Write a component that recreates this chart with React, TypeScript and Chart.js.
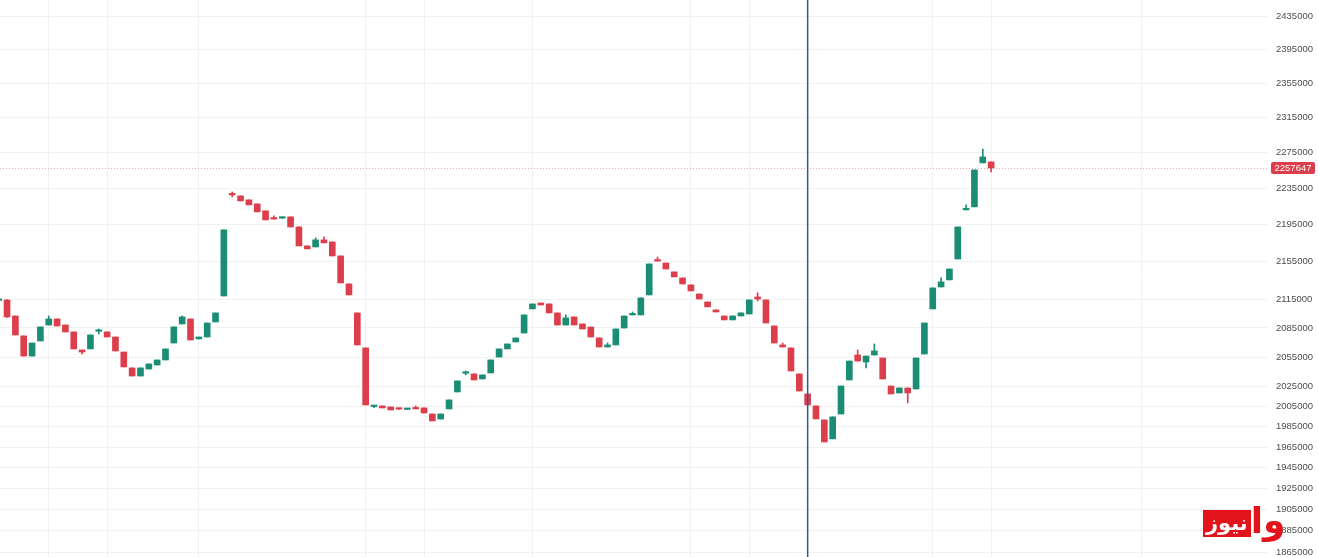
import React, { useEffect, useRef } from "react";
import { Chart, registerables } from "chart.js";

Chart.register(...registerables);

// ---- data ----
const OPEN = [
  2113700, 2114200, 2097400, 2076700, 2056000, 2071500, 2088000, 2094300, 2088000, 2080800,
  2062200, 2063300, 2081500, 2080800, 2075600, 2060100, 2043900, 2035700, 2042800, 2046900,
  2052000, 2069400, 2089100, 2094300, 2073600, 2075600, 2091200, 2118400, 2228700, 2226500,
  2222100, 2217700, 2210000, 2201400, 2202000, 2203400, 2192400, 2171800, 2170700, 2178300,
  2176100, 2161000, 2131100, 2100600, 2064300, 2005000, 2005600, 2004600, 2002700, 2002100,
  2003600, 2003600, 1997600, 1992600, 2002600, 2019600, 2038500, 2037800, 2032700, 2038800,
  2055000, 2063300, 2070500, 2079700, 2104800, 2111000, 2110000, 2100600, 2088000, 2096400,
  2089100, 2085900, 2074600, 2065300, 2067400, 2084900, 2098500, 2098500, 2119500, 2156600,
  2153400, 2143900, 2137500, 2130100, 2120500, 2112100, 2103700, 2097400, 2093300, 2097400,
  2099500, 2117300, 2114200, 2087000, 2067400, 2064300, 2037800, 2017600, 2005600, 1991700,
  1973000, 1997600, 2031700, 2057100, 2049900, 2057100, 2054000, 2025600, 2018600, 2023600,
  2022600, 2058100, 2104800, 2127900, 2135400, 2157700, 2211100, 2214400, 2263400, 2264500,
];
const HIGH = [
  2114900, 2114500, 2097400, 2076700, 2069400, 2086000, 2097400, 2094300, 2088000, 2080800,
  2062200, 2077700, 2083900, 2080800, 2075600, 2060100, 2043900, 2043900, 2047900, 2052000,
  2063300, 2086000, 2097400, 2094300, 2075600, 2090100, 2100600, 2189200, 2230900, 2226500,
  2222100, 2217700, 2210000, 2204600, 2202900, 2203400, 2192400, 2171800, 2180500, 2181600,
  2176100, 2161000, 2131100, 2100600, 2064300, 2006200, 2005600, 2004600, 2003000, 2003100,
  2005600, 2003600, 1997600, 1997600, 2011600, 2030700, 2040800, 2037800, 2036800, 2052000,
  2063300, 2068400, 2074600, 2098500, 2110000, 2111000, 2110000, 2100600, 2098500, 2096400,
  2089100, 2085900, 2074600, 2069400, 2083900, 2097400, 2101600, 2116300, 2152400, 2159900,
  2153400, 2143900, 2137500, 2130100, 2120500, 2112100, 2103700, 2097400, 2097400, 2100600,
  2114200, 2121700, 2114200, 2087000, 2069400, 2064300, 2037800, 2017600, 2005600, 1991700,
  1994700, 2025600, 2050900, 2062200, 2056000, 2068400, 2054000, 2025600, 2023600, 2023600,
  2054000, 2090100, 2126900, 2137500, 2147000, 2192400, 2216600, 2255500, 2279000, 2264500,
];
const LOW = [
  2113300, 2096000, 2077700, 2056000, 2056000, 2071500, 2088000, 2087000, 2080800, 2063300,
  2058100, 2063300, 2078700, 2075600, 2061200, 2044900, 2035700, 2035700, 2042800, 2046900,
  2052000, 2069400, 2089100, 2072500, 2073600, 2075600, 2091200, 2118400, 2225400, 2221000,
  2216600, 2208900, 2200100, 2200900, 2201800, 2192400, 2171800, 2168600, 2170700, 2175100,
  2161000, 2132200, 2119500, 2067400, 2006600, 2003800, 2003600, 2001600, 2002100, 2002100,
  2002600, 1998600, 1990700, 1992600, 2002600, 2019600, 2036800, 2031700, 2032700, 2038800,
  2055000, 2063300, 2070500, 2079700, 2104800, 2108900, 2100600, 2088000, 2088000, 2088000,
  2083900, 2075600, 2065300, 2065300, 2067400, 2084900, 2098500, 2098500, 2119500, 2155500,
  2147000, 2138600, 2131100, 2123700, 2115200, 2106900, 2101600, 2093300, 2093300, 2097400,
  2099500, 2113100, 2090100, 2069400, 2065300, 2040800, 2020600, 2006600, 1992700, 1970000,
  1973000, 1997600, 2031700, 2050900, 2043900, 2057100, 2032700, 2017600, 2018600, 2008600,
  2022600, 2058100, 2104800, 2127900, 2135400, 2157700, 2211100, 2214400, 2263400, 2253300,
];
const CLOSE = [
  2114400, 2096400, 2077700, 2056000, 2069400, 2086000, 2094300, 2087000, 2080800, 2063300,
  2060100, 2077700, 2082000, 2075600, 2061200, 2044900, 2035700, 2043900, 2047900, 2052000,
  2063300, 2086000, 2096400, 2072500, 2075600, 2090100, 2100600, 2189200, 2227600, 2221000,
  2216600, 2208900, 2200100, 2201000, 2202700, 2192400, 2171800, 2168600, 2178300, 2175100,
  2161000, 2132200, 2119500, 2067400, 2006600, 2006000, 2003600, 2001600, 2002400, 2003100,
  2002600, 1998600, 1990700, 1997600, 2011600, 2030700, 2039000, 2031700, 2036800, 2052000,
  2063300, 2068400, 2074600, 2098500, 2110000, 2108900, 2100600, 2088000, 2095400, 2088000,
  2083900, 2075600, 2065300, 2067400, 2083900, 2097400, 2099500, 2116300, 2152400, 2155500,
  2147000, 2138600, 2131100, 2123700, 2115200, 2106900, 2101600, 2093300, 2097400, 2100600,
  2114200, 2115200, 2090100, 2069400, 2065300, 2040800, 2020600, 2006600, 1992700, 1970000,
  1994700, 2025600, 2050900, 2050900, 2056000, 2061200, 2032700, 2017600, 2023600, 2018600,
  2054000, 2090100, 2126900, 2133300, 2147000, 2192400, 2212200, 2255500, 2270100, 2257647,
];
const Y_TICKS = [
  2435000, 2395000, 2355000, 2315000, 2275000, 2235000, 2195000, 2155000, 2115000, 2085000,
  2055000, 2025000, 2005000, 1985000, 1965000, 1945000, 1925000, 1905000, 1885000, 1865000,
];
const X_GRID = [6, 13, 24, 44, 51, 64, 83, 90, 112, 119, 137];
const LAST_PRICE = 2257647;
const MARKER_INDEX = 97;
const Y_MIN = 1860380;
const Y_MAX = 2454463;
const X_MIN = 0.156;
const X_MAX = 152.2;

const GREEN = "#1a8d74";
const RED = "#dd3e4c";
const GRID = "#f1f1f1";
const FONT = '"Liberation Sans", Arial, sans-serif';

const overlayPlugin = {
  id: "overlay",
  afterDatasetsDraw(chart: any) {
    const { ctx, chartArea, scales } = chart;
    const y = Math.round(scales.y.getPixelForValue(LAST_PRICE)) + 0.5;
    ctx.save();
    ctx.strokeStyle = "rgba(226,80,92,0.5)";
    ctx.lineWidth = 1;
    ctx.setLineDash([1, 2]);
    ctx.beginPath();
    ctx.moveTo(chartArea.left, y);
    ctx.lineTo(chartArea.right, y);
    ctx.stroke();
    ctx.setLineDash([]);
    const x = scales.x.getPixelForValue(MARKER_INDEX);
    ctx.strokeStyle = "#2f5d8c";
    ctx.lineWidth = 1.5;
    ctx.beginPath();
    ctx.moveTo(x, chartArea.top);
    ctx.lineTo(x, chartArea.bottom);
    ctx.stroke();
    ctx.restore();
  },
  afterDraw(chart: any) {
    const { ctx, chartArea, scales } = chart;
    const y = scales.y.getPixelForValue(LAST_PRICE);
    const x0 = chartArea.right + 3;
    const w = 44;
    const h = 12;
    ctx.save();
    ctx.fillStyle = RED;
    ctx.beginPath();
    (ctx as any).roundRect(x0, y - h / 2, w, h, 2);
    ctx.fill();
    ctx.fillStyle = "#ffffff";
    ctx.font = `9.5px ${FONT}`;
    ctx.textBaseline = "middle";
    ctx.textAlign = "center";
    ctx.fillText(String(LAST_PRICE), x0 + w / 2, y + 0.5);
    ctx.restore();
  },
};

export default function App() {
  const ref = useRef<HTMLCanvasElement | null>(null);

  useEffect(() => {
    if (!ref.current) return;
    const idx = OPEN.map((_, i) => i);
    const colors = idx.map((i) => (CLOSE[i] >= OPEN[i] ? GREEN : RED));
    const chart = new Chart(ref.current, {
      type: "bar",
      data: {
        datasets: [
          {
            label: "body",
            data: idx.map((i) => ({ x: i, y: [OPEN[i], CLOSE[i]] })) as any,
            backgroundColor: colors,
            barThickness: 6,
            grouped: false,
            minBarLength: 1.5,
            borderWidth: 0,
          } as any,
          {
            label: "wick",
            data: idx.map((i) => ({ x: i, y: [LOW[i], HIGH[i]] })) as any,
            backgroundColor: colors,
            barThickness: 1,
            grouped: false,
            borderWidth: 0,
          } as any,
        ],
      },
      options: {
        animation: false,
        responsive: true,
        maintainAspectRatio: false,
        events: [],
        layout: { padding: 0 },
        plugins: { legend: { display: false }, tooltip: { enabled: false } },
        scales: {
          x: {
            type: "linear",
            min: X_MIN,
            max: X_MAX,
            offset: false,
            grid: { color: GRID, drawTicks: false, offset: false, lineWidth: 1 },
            border: { display: false },
            ticks: { display: false },
            afterBuildTicks: (s: any) => {
              s.ticks = X_GRID.map((v) => ({ value: v }));
            },
          },
          y: {
            type: "logarithmic",
            position: "right",
            min: Y_MIN,
            max: Y_MAX,
            beginAtZero: false,
            grid: { color: GRID, drawTicks: false, lineWidth: 1 },
            border: { display: false },
            ticks: {
              autoSkip: false,
              padding: 8,
              color: "#4d4d4d",
              font: { family: FONT, size: 9.5 },
              callback: (v: any) => String(v),
            },
            afterBuildTicks: (s: any) => {
              s.ticks = Y_TICKS.map((v) => ({ value: v }));
            },
            afterFit: (s: any) => {
              s.width = 50;
              s.paddingTop = 0;
              s.paddingBottom = 0;
            },
          },
        },
      } as any,
      plugins: [overlayPlugin],
    });
    return () => chart.destroy();
  }, []);

  return (
    <div
      style={{
        position: "fixed",
        left: 0,
        top: 0,
        width: 1318,
        height: 557,
        background: "#ffffff",
        overflow: "hidden",
      }}
    >
      <canvas ref={ref} />
      <div
        style={{
          position: "absolute",
          left: 1203,
          top: 503,
          height: 34,
          display: "flex",
          alignItems: "flex-end",
          direction: "ltr",
        }}
      >
        <div
          style={{
            background: "#e3131b",
            color: "#ffffff",
            fontFamily: '"DejaVu Sans", sans-serif',
            fontWeight: 700,
            fontSize: 21,
            lineHeight: "27px",
            height: 27,
            padding: "0 3px",
          }}
        >
          نیوز
        </div>
        <div
          style={{
            color: "#e3131b",
            fontFamily: '"DejaVu Sans", sans-serif',
            fontWeight: 700,
            fontSize: 36,
            lineHeight: "32px",
            height: 32,
          }}
        >
          وا
        </div>
      </div>
    </div>
  );
}
